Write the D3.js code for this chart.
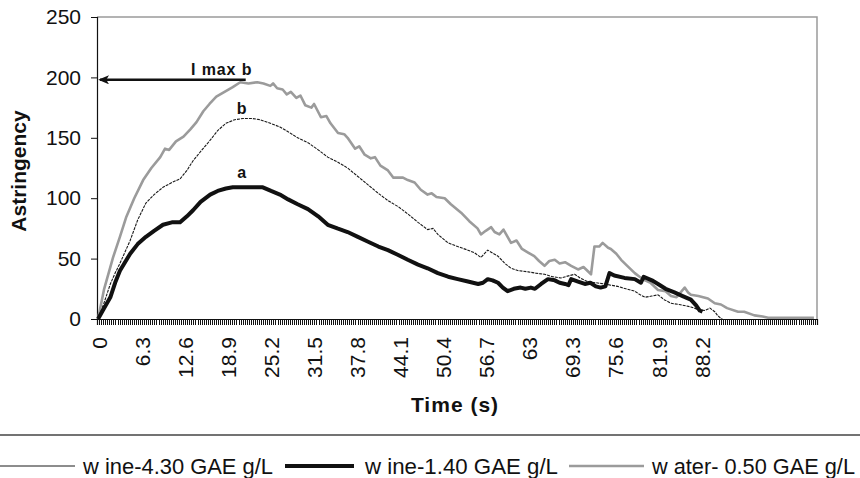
<!DOCTYPE html>
<html><head><meta charset="utf-8">
<script src="https://cdn.jsdelivr.net/npm/d3@7/dist/d3.min.js"></script>
<style>
body{margin:0;background:#fff}
svg{display:block}
text{font-family:"Liberation Sans",Arial,Helvetica,sans-serif;fill:#111}
</style>
</head><body>
<svg id="chart" width="860" height="478"></svg>
<script>
// ---------- data ----------
const seriesNames = ["w ine-4.30 GAE g/L", "w ine-1.40 GAE g/L", "w ater- 0.50 GAE g/L"];
const yTicks = [0, 50, 100, 150, 200, 250];
const xTickLabels = ["0","6.3","12.6","18.9","25.2","31.5","37.8","44.1","50.4","56.7","63","69.3","75.6","81.9","88.2"];
const xTickTimes = [0,6.3,12.6,18.9,25.2,31.5,37.8,44.1,50.4,56.7,63,69.3,75.6,81.9,88.2];
const timeStep = 0.3;          // category spacing (s)
const timeLast = 105;          // last category (s)

const wine430Time  = [0,0.8,1.8,2.5,3.2,4.7,5.8,7,8.2,9.5,10.8,12,13,13.9,15.2,16.4,17.5,18.7,20,21.2,22.5,23.7,25.2,26.6,27.8,29.2,30.7,32.2,33.6,35,36.5,38,39.5,41,42.4,43.9,45.3,46.8,48.2,49,49.7,51.2,52.6,54.1,55,56,57,58.5,59.5,60.4,61.5,62.9,64,65.3,66.5,67.7,69,69.7,70.5,71.6,72.8,74.1,75,76,77.2,78.5,79.3,80,81,81.9,82.8,83.8,85,86.7,87.7,88.7,89.5,90.2,90.6,91,91.3];
const wine430Value = [0,12,29,38,46,65,82,96,103,109,113,116,123,131,140,148,156,162,165,166,166,165,162,159,155,150,146,140,134,130,125,118,111,104,98,93,87,80,74,75,70,63,60,57,55,51,57,52,46,42,40,39,38,37,35,34,36,37,34,31,30,29,28,27,25,23,20,18,19,20,16,13,12,10,8,7,9,6,3,1,0];

const wine140Time  = [0,0.8,1.8,2.5,3.2,4.7,5.8,7,8.2,9.5,10.8,12,13,13.9,15,16.4,17.5,18.7,19.7,22,24.1,25.3,26.6,27.8,29.2,30.7,32.2,33.6,35,36.5,38,39.5,41,42.4,43.9,45.3,46.8,48.2,49.7,51.2,52.6,54.1,55.6,56.3,57,57.7,58.5,59.2,59.9,60.8,61.8,62.5,63.3,63.9,64.8,65.8,66.8,67.5,68.3,68.8,69.2,70.2,71.2,72,72.8,73.5,74.2,74.8,75.5,77,78.5,79.4,79.8,81,81.9,83,84.3,85.5,86.7,87.5,88,88.4];
const wine140Value = [0,8,18,30,40,54,62,68,73,78,80,80,85,90,97,103,106,108,109,109,109,106,103,99,95,91,85,78,75,72,68,64,60,57,53,49,45,42,38,35,33,31,29,30,33,32,30,26,23,25,26,25,26,25,29,33,32,30,29,28,33,31,29,30,27,26,27,38,36,34,33,30,35,32,29,25,22,19,16,11,7,6];

const waterTime  = [0,0.9,2.2,3.2,4.1,5.3,6.6,7.8,9.1,9.8,10.4,11.4,12.5,13.5,14.4,15.4,16.3,17.3,18.5,19.7,20.8,22,23.3,24.2,25.2,25.6,26.2,27,27.6,28.2,29,29.6,30.3,31.2,31.6,32.6,33.4,34,35.1,36,36.5,37.6,38.2,39,39.9,40.5,41.3,42.4,43.2,44.6,45.3,46.3,47.2,48.2,48.8,49.5,50.7,51.6,53.1,54.3,55.5,56,56.7,57.5,58,58.7,59.3,60.4,61.2,62,62.9,63.8,64.5,65.3,66,66.8,67.5,68.3,69.2,70.2,71,72.1,72.6,73.3,73.8,74.6,75,75.8,76.5,77.4,78.5,79.2,80,80.8,81.9,83,83.8,84.6,85.8,86.3,86.7,87.8,89.2,90.2,91.1,92,93.6,94.5,96,97.2,98,104.7];
const waterValue = [0,25,51,68,84,100,115,125,134,141,140,147,151,157,163,172,178,184,188,192,196,195,196,195,193,195,191,190,186,188,183,185,177,175,178,167,168,162,154,153,150,141,143,136,133,134,127,123,117,117,115,113,107,103,104,101,100,95,88,81,75,70,73,76,72,70,74,63,65,58,55,52,48,44,48,49,46,47,44,41,43,37,60,60,63,59,58,54,49,44,38,35,32,30,24,23,19,18,26,22,20,19,17,13,12,9,6,6,3,2,1,1];

const annotationText = "I max b";
const annotationValue = 198;
const annotationTime = 21.6;
const labelA = {text: "a", time: 21, value: 121};
const labelB = {text: "b", time: 21, value: 174.5};

// ---------- layout ----------
const svg = d3.select("#chart");
const L = 97, R = 817, T = 17, B = 319;

const x = d3.scaleLinear().domain([-timeStep/2, timeLast + timeStep/2]).range([L, R]);
const y = d3.scaleLinear().domain([0, 250]).range([B, T]);

// plot frame (top/right gray)
svg.append("path")
  .attr("d", `M${L},${T}H${R}V${B}`)
  .attr("fill", "none").attr("stroke", "#9a9a9a").attr("stroke-width", 1.5);

// y axis
const yAxis = d3.axisLeft(y).tickValues(yTicks).tickSize(6).tickPadding(10).tickFormat(d3.format("d"));
const gy = svg.append("g").attr("transform", `translate(${L},0)`).call(yAxis);
gy.select(".domain").attr("stroke", "#111").attr("stroke-width", 1.2);
gy.selectAll(".tick line").attr("stroke", "#111");
gy.selectAll(".tick text").attr("font-size", 21).attr("fill", "#111")
  .style("font-family", "'Liberation Sans',Arial,sans-serif");

// x axis: dense category tick comb
const nCat = Math.round(timeLast / timeStep) + 1;
const boundaries = d3.range(nCat + 1).map(k => -timeStep/2 + k * timeStep);
const xAxis = d3.axisBottom(x).tickValues(boundaries).tickSize(6).tickFormat("");
const gx = svg.append("g").attr("transform", `translate(0,${B})`).call(xAxis);
gx.select(".domain").attr("stroke", "#111").attr("stroke-width", 1.2);
gx.selectAll(".tick line").attr("stroke", "#111").attr("shape-rendering", "crispEdges");

// x tick labels (rotated)
const xl = svg.append("g");
xTickTimes.forEach((t, i) => {
  xl.append("text")
    .attr("transform", `translate(${x(t) + 1},${B + 18}) rotate(-90)`)
    .attr("text-anchor", "end")
    .attr("dominant-baseline", "central")
    .attr("font-size", 21)
    .text(xTickLabels[i]);
});

// axis titles
svg.append("text")
  .attr("transform", `translate(18,171) rotate(-90)`)
  .attr("text-anchor", "middle").attr("dominant-baseline", "central")
  .attr("font-size", 21).attr("font-weight", "bold")
  .text("Astringency");
svg.append("text")
  .attr("x", 455).attr("y", 404)
  .attr("text-anchor", "middle").attr("dominant-baseline", "central")
  .attr("font-size", 21).attr("font-weight", "bold").attr("letter-spacing", 1)
  .text("Time (s)");

// series
const line = d3.line().x(d => x(d[0])).y(d => y(d[1]));
const zip = (ts, vs) => ts.map((t, i) => [t, vs[i]]);
const series = [
  {name: seriesNames[0], data: zip(wine430Time, wine430Value), color: "#1a1a1a", width: 1.1, dash: "3,1"},
  {name: seriesNames[1], data: zip(wine140Time, wine140Value), color: "#111", width: 4, dash: null},
  {name: seriesNames[2], data: zip(waterTime, waterValue), color: "#9b9b9b", width: 2.6, dash: null}
];
const drawOrder = [2, 0, 1];
drawOrder.forEach(i => {
  const s = series[i];
  svg.append("path").datum(s.data)
    .attr("d", line).attr("fill", "none")
    .attr("stroke", s.color).attr("stroke-width", s.width)
    .attr("stroke-linejoin", "round")
    .attr("stroke-dasharray", s.dash);
});

// annotations
svg.append("defs").append("marker")
  .attr("id", "arrow").attr("viewBox", "0 0 12 10")
  .attr("refX", 10).attr("refY", 5)
  .attr("markerWidth", 12).attr("markerHeight", 9)
  .attr("markerUnits", "userSpaceOnUse")
  .attr("orient", "auto")
  .append("path").attr("d", "M0,0 L12,5 L0,10 L3,5 Z").attr("fill", "#111");
svg.append("line")
  .attr("x1", x(annotationTime)).attr("y1", y(annotationValue))
  .attr("x2", L + 3).attr("y2", y(annotationValue))
  .attr("stroke", "#111").attr("stroke-width", 2.4)
  .attr("marker-end", "url(#arrow)");
svg.append("text")
  .attr("x", x(annotationTime) - 24).attr("y", y(annotationValue) - 5)
  .attr("text-anchor", "middle").attr("font-size", 16).attr("font-weight", "bold")
  .attr("letter-spacing", 0.9)
  .text(annotationText);
[labelA, labelB].forEach(l => {
  svg.append("text")
    .attr("x", x(l.time)).attr("y", y(l.value))
    .attr("text-anchor", "middle").attr("dominant-baseline", "central")
    .attr("font-size", 16).attr("font-weight", "bold")
    .text(l.text);
});

// legend
const legY = 466;
svg.append("line").attr("x1", 0).attr("x2", 860).attr("y1", 435).attr("y2", 435)
  .attr("stroke", "#444").attr("stroke-width", 1.5);
const legendItems = [
  {s: series[0], x0: 0, x1: 75, tx: 83, tw: 190, sw: 1},
  {s: series[1], x0: 285, x1: 354, tx: 365, tw: 193, sw: 4},
  {s: series[2], x0: 569, x1: 644, tx: 652, tw: 203, sw: 2.6}
];
legendItems.forEach(it => {
  svg.append("line").attr("x1", it.x0).attr("x2", it.x1).attr("y1", legY).attr("y2", legY)
    .attr("stroke", it.s.color).attr("stroke-width", it.sw);
  svg.append("text").attr("x", it.tx).attr("y", legY)
    .attr("dominant-baseline", "central").attr("font-size", 22)
    .attr("textLength", it.tw).attr("lengthAdjust", "spacingAndGlyphs")
    .text(it.s.name);
});
</script>
</body></html>
